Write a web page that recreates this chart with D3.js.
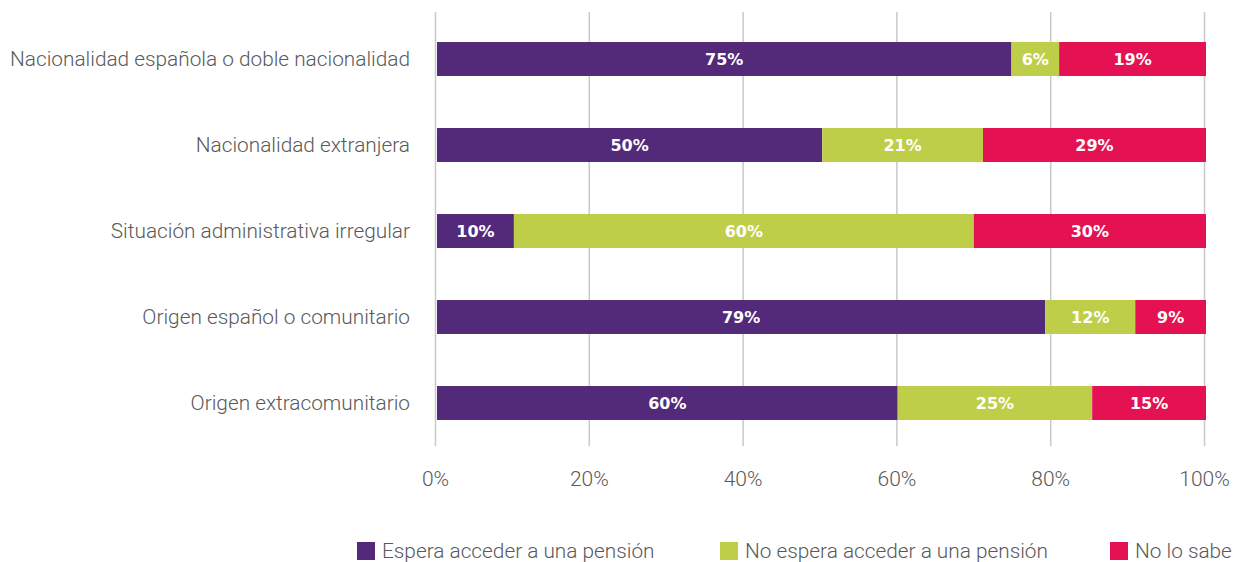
<!DOCTYPE html>
<html>
<head>
<meta charset="utf-8">
<script src="https://cdn.jsdelivr.net/npm/d3@7"></script>
<style>
  body { margin: 0; background: #fff; }
  text { font-family: Roboto, "Noto Sans", sans-serif; }
</style>
</head>
<body>
<div id="chart"></div>
<script>
// categories (top to bottom)
var categories = [
  "Nacionalidad española o doble nacionalidad",
  "Nacionalidad extranjera",
  "Situación administrativa irregular",
  "Origen español o comunitario",
  "Origen extracomunitario"
];
var seriesNames = ["Espera acceder a una pensión", "No espera acceder a una pensión", "No lo sabe"];
// values (percent)
var espera = [74.7, 50.1, 10.0, 79.1, 59.9];
var noEspera = [6.2, 20.9, 59.8, 11.7, 25.3];
var noSabe = [19.1, 29.0, 30.2, 9.2, 14.8];
var ticks = [0, 20, 40, 60, 80, 100];

var colors = ["#532a79", "#bfce48", "#e51253"];

var width = 1234, height = 562;

var svg = d3.select("#chart").append("svg")
  .attr("width", width)
  .attr("height", height);

var x = d3.scaleLinear().domain([0, 100]).range([437, 1206]);
var y = d3.scaleBand().domain(categories).range([16, 446])
  .paddingInner(0.605).paddingOuter(0.3025);

// gridlines
svg.append("g").selectAll("line")
  .data(ticks)
  .enter().append("line")
  .attr("x1", function (d) { return x(d) - 1.5; })
  .attr("x2", function (d) { return x(d) - 1.5; })
  .attr("y1", 12)
  .attr("y2", 446)
  .attr("stroke", "#c8c8c8")
  .attr("stroke-width", 1.5);

// tick labels
svg.append("g").selectAll("text")
  .data(ticks)
  .enter().append("text")
  .attr("x", function (d) { return x(d) - 1.5; })
  .attr("y", 486)
  .attr("text-anchor", "middle")
  .attr("fill", "#595959")
  .style("font-size", "21px")
  .style("font-weight", 300)
  .text(function (d) { return d + "%"; });

// stack the three series
var rows = categories.map(function (c, i) {
  return { cat: c, a: espera[i], b: noEspera[i], c: noSabe[i] };
});
var stack = d3.stack().keys(["a", "b", "c"]);
var layers = stack(rows);

var g = svg.append("g").selectAll("g")
  .data(layers)
  .enter().append("g")
  .attr("fill", function (d, i) { return colors[i]; });

g.selectAll("rect")
  .data(function (d) { return d; })
  .enter().append("rect")
  .attr("x", function (d) { return x(d[0]); })
  .attr("width", function (d) { return x(d[1]) - x(d[0]); })
  .attr("y", function (d) { return y(d.data.cat); })
  .attr("height", y.bandwidth());

g.selectAll("text")
  .data(function (d) { return d; })
  .enter().append("text")
  .attr("x", function (d) { return (x(d[0]) + x(d[1])) / 2; })
  .attr("y", function (d) { return y(d.data.cat) + y.bandwidth() / 2; })
  .attr("dy", "0.36em")
  .attr("text-anchor", "middle")
  .attr("fill", "#fff")
  .style("font-family", "'DejaVu Sans', sans-serif")
  .style("font-size", "16px")
  .style("font-weight", 700)
  .text(function (d) { return Math.round(d[1] - d[0]) + "%"; });

// category labels
svg.append("g").selectAll("text")
  .data(categories)
  .enter().append("text")
  .attr("x", 410)
  .attr("y", function (d) { return y(d) + y.bandwidth() / 2; })
  .attr("dy", "0.35em")
  .attr("text-anchor", "end")
  .attr("fill", "#595959")
  .style("font-size", "20.8px")
  .style("font-weight", 300)
  .text(function (d) { return d; });

// legend
var legendX = [357, 720, 1110];
var legend = svg.append("g").selectAll("g")
  .data(seriesNames)
  .enter().append("g")
  .attr("transform", function (d, i) { return "translate(" + legendX[i] + ",542)"; });

legend.append("rect")
  .attr("width", 18)
  .attr("height", 18)
  .attr("fill", function (d, i) { return colors[i]; });

legend.append("text")
  .attr("x", 25)
  .attr("y", 9)
  .attr("dy", "0.35em")
  .attr("fill", "#595959")
  .style("font-size", "20.8px")
  .style("font-weight", 300)
  .text(function (d) { return d; });
</script>
</body>
</html>
